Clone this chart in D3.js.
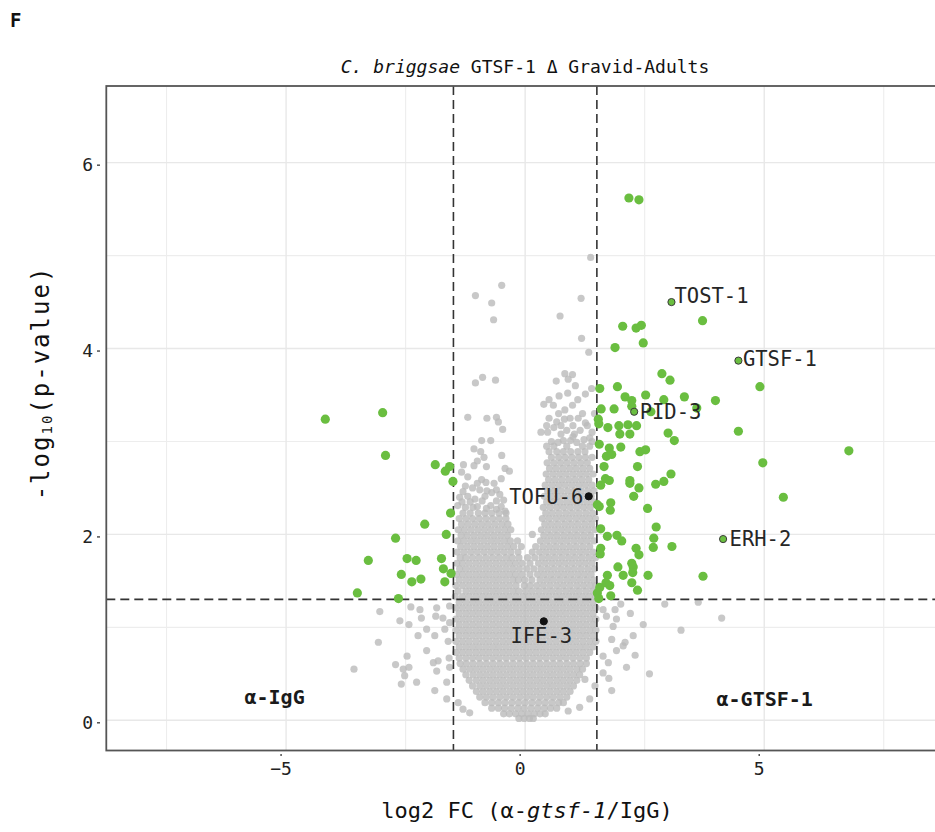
<!DOCTYPE html>
<html>
<head>
<meta charset="utf-8">
<script src="https://cdn.jsdelivr.net/npm/d3@7"></script>
<style>
body { margin: 0; background: #fff; }
svg text { font-family: "DejaVu Sans Mono", monospace; }
</style>
</head>
<body>
<svg id="vis" width="935" height="832"></svg>
<script>
// axis ticks and cut-offs
var xTicks = [-5, 0, 5];
var xMinor = [-7.5, -2.5, 2.5, 7.5];
var yTicks = [0, 2, 4, 6];
var yMinor = [1, 3, 5];
var fcCut = [-1.5, 1.5];
var pCut = 1.301;

// significant proteins, log2 FC > 1.5
var greenRight = [[2.17,5.62],[2.38,5.60],[3.71,4.30],[2.04,4.24],[2.32,4.22],[2.43,4.25],[2.47,4.06],[1.88,4.01],
  [2.86,3.73],[3.03,3.66],[4.91,3.59],[1.56,3.57],[1.93,3.59],[2.09,3.48],[2.23,3.44],[2.52,3.50],[2.90,3.45],
  [3.33,3.48],[3.98,3.44],[1.59,3.35],[1.86,3.35],[2.23,3.38],[2.63,3.32],[3.59,3.36],[1.53,3.24],[1.54,3.19],
  [1.73,3.15],[1.96,3.17],[2.15,3.18],[2.33,3.17],[1.98,3.08],[2.19,3.08],[2.99,3.09],[4.46,3.11],[3.12,3.01],
  [6.77,2.90],[1.55,2.97],[1.76,2.93],[2.00,2.94],[1.70,2.84],[1.81,2.86],[2.40,2.89],[2.52,2.91],[4.97,2.77],
  [1.65,2.73],[2.35,2.73],[3.05,2.65],[2.90,2.57],[2.73,2.54],[1.68,2.60],[1.76,2.58],[2.19,2.58],[2.19,2.55],
  [1.58,2.53],[2.38,2.50],[2.27,2.41],[5.40,2.40],[1.51,2.32],[1.55,2.30],[1.79,2.34],[1.78,2.26],[2.56,2.28],
  [2.74,2.08],[1.58,2.06],[1.72,1.98],[1.92,1.99],[2.02,1.93],[2.69,1.96],[2.68,1.86],[3.07,1.87],[1.58,1.85],
  [1.57,1.79],[2.32,1.85],[2.38,1.78],[2.23,1.69],[2.26,1.65],[1.94,1.65],[2.05,1.56],[2.25,1.59],[2.57,1.56],
  [3.72,1.55],[1.72,1.56],[1.69,1.48],[1.77,1.45],[2.23,1.48],[2.35,1.40],[1.56,1.43],[1.51,1.37],[1.79,1.34],
  [1.54,1.31]];

// significant proteins, log2 FC < -1.5
var greenLeft = [[-4.18,3.24],[-2.98,3.31],[-2.92,2.85],[-1.88,2.75],[-1.67,2.68],[-1.58,2.73],[-1.51,2.57],
  [-1.56,2.23],[-2.10,2.11],[-2.71,1.96],[-1.65,2.00],[-3.28,1.72],[-2.47,1.74],[-2.28,1.72],[-1.75,1.74],
  [-1.71,1.63],[-1.55,1.58],[-2.59,1.57],[-2.37,1.49],[-2.18,1.52],[-1.68,1.49],[-3.51,1.37],[-2.65,1.31]];

// labelled proteins
var labelNames = ["TOST-1", "GTSF-1", "PID-3", "ERH-2", "TOFU-6", "IFE-3"];
var labelX = [3.06, 4.46, 2.28, 4.14, 1.33, 0.39];
var labelY = [4.50, 3.87, 3.32, 1.95, 2.41, 1.065];
var labelSig = [true, true, true, true, false, false];

// non significant proteins, bottom of the volcano: [y, [x...]]
var grayCore = [
  [0.02, [-0.13,-0.02,0.09,0.17]],
  [0.07, [-0.45,-0.33,-0.2,-0.07,0.06,0.19,0.31,0.42]],
  [0.13, [-0.7,-0.56,-0.43,-0.29,-0.15,-0.02,0.12,0.26,0.4,0.53,0.66]],
  [0.19, [-0.84,-0.7,-0.56,-0.42,-0.28,-0.14,0,0.14,0.28,0.42,0.56,0.7,0.8]],
  [0.25, [-0.95,-0.81,-0.67,-0.53,-0.39,-0.25,-0.11,0.03,0.17,0.31,0.45,0.59,0.73,0.87]],
  [0.31, [-1.02,-0.88,-0.74,-0.6,-0.46,-0.32,-0.18,-0.04,0.1,0.24,0.38,0.52,0.66,0.8,0.94]],
  [0.37, [-1.1,-0.95,-0.81,-0.67,-0.53,-0.39,-0.25,-0.11,0.03,0.17,0.31,0.45,0.59,0.73,0.87,1.01]],
  [0.43, [-1.17,-1.02,-0.88,-0.74,-0.6,-0.46,-0.32,-0.18,-0.04,0.1,0.24,0.38,0.52,0.66,0.8,0.94,1.08]],
  [0.49, [-1.24,-1.09,-0.95,-0.81,-0.67,-0.53,-0.39,-0.25,-0.11,0.03,0.17,0.31,0.45,0.59,0.73,0.87,1.01,1.14]],
  [0.55, [-1.3,-1.16,-1.02,-0.88,-0.74,-0.6,-0.46,-0.32,-0.18,-0.04,0.1,0.24,0.38,0.52,0.66,0.8,0.94,1.08,1.2]],
  [0.61, [-1.36,-1.23,-1.09,-0.95,-0.81,-0.67,-0.53,-0.39,-0.25,-0.11,0.03,0.17,0.31,0.45,0.59,0.73,0.87,1.01,1.15,1.28]],
  [0.67, [-1.38,-1.24,-1.1,-0.96,-0.82,-0.68,-0.54,-0.4,-0.26,-0.12,0.02,0.16,0.3,0.44,0.58,0.72,0.86,1.0,1.14,1.28]],
  [0.73, [-1.45,-1.31,-1.17,-1.03,-0.89,-0.75,-0.61,-0.47,-0.33,-0.19,-0.05,0.09,0.23,0.37,0.51,0.65,0.79,0.93,1.07,1.21,1.35]],
  [0.79, [-1.38,-1.24,-1.1,-0.96,-0.82,-0.68,-0.54,-0.4,-0.26,-0.12,0.02,0.16,0.3,0.44,0.58,0.72,0.86,1.0,1.14,1.28,1.42]],
  [0.85, [-1.45,-1.31,-1.17,-1.03,-0.89,-0.75,-0.61,-0.47,-0.33,-0.19,-0.05,0.09,0.23,0.37,0.51,0.65,0.79,0.93,1.07,1.21,1.35,1.48]],
  [0.91, [-1.38,-1.24,-1.1,-0.96,-0.82,-0.68,-0.54,-0.4,-0.26,-0.12,0.02,0.16,0.3,0.44,0.58,0.72,0.86,1.0,1.14,1.28,1.42]],
  [0.97, [-1.45,-1.31,-1.17,-1.03,-0.89,-0.75,-0.61,-0.47,-0.33,-0.19,-0.05,0.09,0.23,0.37,0.51,0.65,0.79,0.93,1.07,1.21,1.35,1.48]],
  [1.03, [-1.38,-1.24,-1.1,-0.96,-0.82,-0.68,-0.54,-0.4,-0.26,-0.12,0.02,0.16,0.3,0.44,0.58,0.72,0.86,1.0,1.14,1.28,1.42]],
  [1.09, [-1.45,-1.31,-1.17,-1.03,-0.89,-0.75,-0.61,-0.47,-0.33,-0.19,-0.05,0.09,0.23,0.37,0.51,0.65,0.79,0.93,1.07,1.21,1.35,1.48]],
  [1.15, [-1.38,-1.24,-1.1,-0.96,-0.82,-0.68,-0.54,-0.4,-0.26,-0.12,0.02,0.16,0.3,0.44,0.58,0.72,0.86,1.0,1.14,1.28,1.42]],
  [1.21, [-1.45,-1.31,-1.17,-1.03,-0.89,-0.75,-0.61,-0.47,-0.33,-0.19,-0.05,0.09,0.23,0.37,0.51,0.65,0.79,0.93,1.07,1.21,1.35,1.48]],
  [1.27, [-1.38,-1.24,-1.1,-0.96,-0.82,-0.68,-0.54,-0.4,-0.26,-0.12,0.02,0.16,0.3,0.44,0.58,0.72,0.86,1.0,1.14,1.28,1.42]]
];

// left arm of the volcano
var grayLeftArm = [
  [1.33, [-1.46,-1.31,-1.17,-1.03,-0.89,-0.75,-0.61,-0.47,-0.33,-0.19,-0.05]],
  [1.39, [-1.4,-1.24,-1.1,-0.96,-0.82,-0.68,-0.54,-0.4,-0.26,-0.13]],
  [1.45, [-1.45,-1.31,-1.17,-1.03,-0.89,-0.75,-0.61,-0.47,-0.33,-0.19,-0.02]],
  [1.51, [-1.38,-1.24,-1.1,-0.96,-0.82,-0.68,-0.54,-0.4,-0.26,-0.14]],
  [1.57, [-1.44,-1.31,-1.17,-1.03,-0.89,-0.75,-0.61,-0.47,-0.33,-0.2]],
  [1.63, [-1.37,-1.24,-1.1,-0.96,-0.82,-0.68,-0.54,-0.4,-0.26]],
  [1.69, [-1.43,-1.31,-1.17,-1.03,-0.89,-0.75,-0.61,-0.47,-0.33,-0.2]],
  [1.75, [-1.36,-1.24,-1.1,-0.96,-0.82,-0.68,-0.54,-0.4,-0.27]],
  [1.81, [-1.42,-1.28,-1.14,-1.0,-0.86,-0.72,-0.58,-0.44,-0.3]],
  [1.87, [-1.35,-1.21,-1.07,-0.93,-0.79,-0.65,-0.51,-0.37,-0.24]],
  [1.93, [-1.41,-1.28,-1.14,-1.0,-0.86,-0.72,-0.58,-0.44,-0.31]],
  [1.99, [-1.34,-1.21,-1.07,-0.93,-0.79,-0.65,-0.51,-0.37]],
  [2.05, [-1.4,-1.27,-1.13,-0.99,-0.85,-0.71,-0.57,-0.43,-0.3]],
  [2.11, [-1.33,-1.19,-1.05,-0.91,-0.77,-0.63,-0.49,-0.36]],
  [2.17, [-1.38,-1.24,-1.1,-0.96,-0.82,-0.68,-0.54,-0.4]],
  [2.23, [-1.3,-1.15,-0.98,-0.84,-0.7,-0.55,-0.4]]
];

// between the two arms
var grayMiddle = [
  [1.33, [0.08]],
  [1.39, [0.01,0.15]],
  [1.45, [0.1]],
  [1.51, [-0.01,0.14]],
  [1.57, [-0.06,0.1]],
  [1.63, [-0.12,0.03,0.18]],
  [1.69, [-0.06,0.1]],
  [1.75, [-0.13,0.05,0.2]],
  [1.81, [-0.15,0.15]],
  [1.87, [-0.08,0.22]],
  [1.93, [-0.16]],
  [2.0, [0.15]]
];

// right arm of the volcano
var grayRightArm = [
  [1.33, [0.22,0.36,0.5,0.64,0.78,0.92,1.06,1.2,1.34,1.47]],
  [1.39, [0.29,0.43,0.57,0.71,0.85,0.99,1.13,1.27,1.41]],
  [1.45, [0.24,0.38,0.52,0.66,0.8,0.94,1.08,1.22,1.36,1.48]],
  [1.51, [0.31,0.45,0.59,0.73,0.87,1.01,1.15,1.29,1.43]],
  [1.57, [0.26,0.4,0.54,0.68,0.82,0.96,1.1,1.24,1.38]],
  [1.63, [0.33,0.47,0.61,0.75,0.89,1.03,1.17,1.31,1.45]],
  [1.69, [0.28,0.42,0.56,0.7,0.84,0.98,1.12,1.26,1.4]],
  [1.75, [0.35,0.49,0.63,0.77,0.91,1.05,1.19,1.33,1.47]],
  [1.81, [0.3,0.44,0.58,0.72,0.86,1.0,1.14,1.28,1.42]],
  [1.87, [0.37,0.51,0.65,0.79,0.93,1.07,1.21,1.35]],
  [1.93, [0.32,0.46,0.6,0.74,0.88,1.02,1.16,1.3,1.44]],
  [1.99, [0.39,0.53,0.67,0.81,0.95,1.09,1.23,1.37]],
  [2.05, [0.34,0.48,0.62,0.76,0.9,1.04,1.18,1.32,1.46]],
  [2.11, [0.41,0.55,0.69,0.83,0.97,1.11,1.25,1.39]],
  [2.17, [0.36,0.5,0.64,0.78,0.92,1.06,1.2,1.34,1.47]],
  [2.23, [0.43,0.57,0.71,0.85,0.99,1.13,1.27,1.41]],
  [2.29, [0.38,0.52,0.66,0.8,0.94,1.08,1.22,1.36]],
  [2.35, [0.45,0.59,0.73,0.87,1.01,1.15,1.29,1.43]],
  [2.41, [0.4,0.54,0.68,0.82,0.96,1.1,1.24,1.38]],
  [2.47, [0.47,0.61,0.75,0.89,1.03,1.17,1.31,1.44]],
  [2.53, [0.42,0.56,0.7,0.84,0.98,1.12,1.26,1.4]],
  [2.59, [0.49,0.63,0.77,0.91,1.05,1.19,1.33]],
  [2.65, [0.44,0.58,0.72,0.86,1.0,1.14,1.28,1.42]],
  [2.71, [0.51,0.65,0.79,0.93,1.07,1.21,1.35]],
  [2.77, [0.46,0.6,0.74,0.88,1.02,1.16,1.3]],
  [2.83, [0.55,0.7,0.84,0.98,1.12,1.26,1.4]],
  [2.89, [0.5,0.66,0.8,0.95,1.1,1.25]]
];

// scattered non significant proteins
var grayScatter = [
  [-1.20,3.26],[-0.80,3.25],[-0.60,3.26],[-0.56,3.21],[-0.47,3.13],[-0.91,3.01],[-0.72,3.01],[-1.07,2.92],
  [-0.93,2.89],[-0.49,2.85],[-0.86,2.83],[-1.00,2.79],[-0.81,2.73],[-1.07,2.74],[-1.29,2.75],[-1.33,2.67],
  [-0.42,2.71],[-0.33,2.68],[-0.91,2.59],[-1.37,2.40],[-1.20,2.41],[-1.05,2.38],[-0.84,2.41],[-0.70,2.45],
  [-0.53,2.43],[-1.41,2.31],[-1.09,2.29],[-0.81,2.28],[-0.60,2.27],[-0.42,2.25],[-1.25,2.52],[-1.1,2.5],
  [-0.65,2.55],[-0.5,2.6],[-1.2,2.62],[-0.6,2.36],[-0.95,2.48],
  [-1.25,2.29],[-1.0,2.3],[-0.72,2.31],[-0.5,2.3],[-1.32,2.35],[-1.15,2.35],[-0.9,2.36],[-0.45,2.37],
  [-1.3,2.46],[-0.8,2.47],[-0.6,2.48],[-1.0,2.55],[-0.82,2.56],
  [-0.89,3.69],[-1.04,3.63],[-0.62,3.66],[-0.49,4.68],[-1.04,4.57],[-0.70,4.49],[-0.66,4.31],
  [0.69,2.99],[0.87,2.95],[1.08,2.99],[1.23,3.02],[1.35,2.95],[0.33,3.10],[0.47,3.10],[0.87,3.12],[1.03,3.08],
  [0.94,3.25],[1.11,3.25],[0.66,3.21],[0.82,3.24],[1.26,3.20],[0.39,3.40],[0.59,3.39],[0.83,3.34],[0.99,3.39],
  [0.71,3.49],[0.89,3.52],[1.26,3.51],[1.39,3.57],[0.83,3.73],[0.99,3.72],[0.65,3.65],[0.90,3.67],[1.35,3.04],
  [0.55,3.0],[1.0,3.05],[0.75,3.08],[1.15,3.12],[0.6,3.15],[1.4,3.1],[0.5,3.25],
  [0.45,2.95],[0.6,2.95],[1.2,2.95],[0.8,3.01],[0.95,3.01],[1.4,3.0],[0.75,3.17],[1.0,3.17],[1.3,3.17],
  [0.45,3.17],[0.7,3.3],[1.2,3.3],[1.45,3.3],[0.5,3.45],[1.1,3.45],[1.05,3.6],
  [1.33,3.96],[1.18,4.11],[0.73,4.35],[1.17,4.54],[1.37,4.98],
  [-3.58,0.55],[-3.07,0.84],[-3.04,1.17],[-2.71,0.60],[-2.62,1.07],[-2.55,0.55],[-2.52,0.48],[-2.59,0.39],
  [-2.43,0.57],[-2.47,0.69],[-2.27,0.41],[-2.39,1.22],[-2.43,1.03],[-2.20,1.19],[-2.17,1.10],[-2.24,0.91],
  [-2.06,0.98],[-2.06,0.75],[-1.89,0.91],[-1.87,1.12],[-1.85,1.21],[-1.82,0.64],[-1.92,0.62],[-1.85,0.53],
  [-1.89,0.32],[-1.64,0.23],[-1.59,0.67],[-1.58,0.57],[-1.72,1.10],[-1.68,0.98],[-1.58,1.05],[-1.61,0.85],
  [-1.64,0.41],[-1.58,1.23],[-1.40,0.19],[-1.30,0.12],[-1.16,0.08],
  [0.90,0.10],[1.14,0.14],[1.35,0.23],[1.46,0.37],[1.25,0.44],
  [1.63,1.19],[1.70,1.12],[1.84,1.01],[1.81,0.87],[1.91,0.75],[2.05,0.80],[2.09,0.84],[2.26,0.91],[2.47,1.03],
  [2.12,0.57],[1.81,0.32],[1.63,0.51],[1.74,0.62],[1.88,1.19],[1.91,1.09],[1.63,0.69],[2.92,1.25],[3.62,1.27],
  [4.11,1.10],[3.26,0.97],[2.3,0.7],[2.6,0.5],[1.75,0.45],[2.0,1.25],[2.2,1.15]];

function rowsToPoints(rows) {
    var out = [];
    rows.forEach(function(r) {
        r[1].forEach(function(x) { out.push([x, r[0]]); });
    });
    return out;
}

var svg = d3.select("#vis");
var green = "#6abe40";

var xScale = d3.scaleLinear().domain([-8.76, 8.76]).range([106.3, 944]);
var yScale = d3.scaleLinear().domain([-0.325, 6.825]).range([750.5, 86]);
var x0 = xScale.range()[0], x1 = xScale.range()[1];
var y0 = yScale.range()[0], y1 = yScale.range()[1];

svg.append("defs").append("clipPath").attr("id", "panel")
   .append("rect").attr("x", x0).attr("y", y1).attr("width", x1 - x0).attr("height", y0 - y1);

// grid
var grid = svg.append("g");
grid.selectAll(".vminor").data(xMinor).enter().append("line")
    .attr("x1", d => xScale(d)).attr("x2", d => xScale(d)).attr("y1", y1).attr("y2", y0)
    .attr("stroke", "#ededed").attr("stroke-width", 1.1);
grid.selectAll(".hminor").data(yMinor).enter().append("line")
    .attr("x1", x0).attr("x2", x1).attr("y1", d => yScale(d)).attr("y2", d => yScale(d))
    .attr("stroke", "#ededed").attr("stroke-width", 1.1);
grid.selectAll(".vmajor").data(xTicks).enter().append("line")
    .attr("x1", d => xScale(d)).attr("x2", d => xScale(d)).attr("y1", y1).attr("y2", y0)
    .attr("stroke", "#e8e8e8").attr("stroke-width", 1.4);
grid.selectAll(".hmajor").data(yTicks).enter().append("line")
    .attr("x1", x0).attr("x2", x1).attr("y1", d => yScale(d)).attr("y2", d => yScale(d))
    .attr("stroke", "#e8e8e8").attr("stroke-width", 1.4);

var plot = svg.append("g").attr("clip-path", "url(#panel)");

// grey points
var grayAll = rowsToPoints(grayCore).concat(rowsToPoints(grayLeftArm), rowsToPoints(grayMiddle),
                                            rowsToPoints(grayRightArm), grayScatter);
plot.append("g").selectAll("circle").data(grayAll).enter().append("circle")
    .attr("cx", d => xScale(d[0])).attr("cy", d => yScale(d[1])).attr("r", 3.6)
    .attr("fill", "#bababa").attr("fill-opacity", 0.8);

// cut-off lines
plot.selectAll(".vcut").data(fcCut).enter().append("line")
    .attr("x1", d => xScale(d)).attr("x2", d => xScale(d)).attr("y1", y1).attr("y2", y0)
    .attr("stroke", "#333").attr("stroke-width", 1.6).attr("stroke-dasharray", "9,5");
plot.append("line")
    .attr("x1", x0).attr("x2", x1).attr("y1", yScale(pCut)).attr("y2", yScale(pCut))
    .attr("stroke", "#333").attr("stroke-width", 1.6).attr("stroke-dasharray", "9,5");

// green points
plot.append("g").selectAll("circle").data(greenRight.concat(greenLeft)).enter().append("circle")
    .attr("cx", d => xScale(d[0])).attr("cy", d => yScale(d[1])).attr("r", 4.6)
    .attr("fill", green);

// labelled points
var labels = labelNames.map((n, i) => ({name: n, x: labelX[i], y: labelY[i], sig: labelSig[i]}));
var labelOffset = {
    "TOST-1": [3, 1, "start"], "GTSF-1": [4.5, 5, "start"], "PID-3": [5.5, 6.8, "start"],
    "ERH-2": [6.5, 7.4, "start"], "TOFU-6": [-5.5, 7.4, "end"], "IFE-3": [-2.5, 21.4, "middle"]
};
plot.append("g").selectAll("circle").data(labels).enter().append("circle")
    .attr("cx", d => xScale(d.x)).attr("cy", d => yScale(d.y)).attr("r", 3.6)
    .attr("fill", d => d.sig ? green : "#111")
    .attr("stroke", d => d.sig ? "#3a3a3a" : "#111").attr("stroke-width", 1);
svg.append("g").selectAll("text").data(labels).enter().append("text")
    .attr("x", d => xScale(d.x) + labelOffset[d.name][0])
    .attr("y", d => yScale(d.y) + labelOffset[d.name][1])
    .attr("text-anchor", d => labelOffset[d.name][2])
    .attr("font-size", "20.5px").attr("fill", "#262626")
    .text(d => d.name);

// group annotations
svg.append("text").attr("x", xScale(-5.24)).attr("y", yScale(0.247) + 7)
   .attr("text-anchor", "middle").attr("font-size", "20px").attr("font-weight", "bold")
   .attr("fill", "#1a1a1a").text("α-IgG");
svg.append("text").attr("x", xScale(5.01)).attr("y", yScale(0.226) + 7)
   .attr("text-anchor", "middle").attr("font-size", "20px").attr("font-weight", "bold")
   .attr("fill", "#1a1a1a").text("α-GTSF-1");

// panel border
svg.append("rect").attr("x", x0).attr("y", y1).attr("width", x1 - x0).attr("height", y0 - y1)
   .attr("fill", "none").attr("stroke", "#555").attr("stroke-width", 1.8);

// axes
var xAxis = svg.append("g").attr("transform", "translate(-5.5," + (y0 + 3.5) + ")")
    .call(d3.axisBottom(xScale).tickValues(xTicks).tickSize(2).tickPadding(6)
          .tickFormat(d => d < 0 ? "\u2212" + Math.abs(d) : d));
var yAxis = svg.append("g").attr("transform", "translate(100,2)")
    .call(d3.axisLeft(yScale).tickValues(yTicks).tickSize(3).tickPadding(4));
[xAxis, yAxis].forEach(function(a) {
    a.select(".domain").remove();
    a.selectAll(".tick line").attr("stroke", "#444").attr("stroke-width", 1.4);
    a.selectAll(".tick text").attr("font-family", "DejaVu Sans Mono").attr("font-size", "18px").attr("fill", "#222");
});

// titles
var title = svg.append("text").attr("x", 525).attr("y", 73).attr("text-anchor", "middle")
    .attr("font-size", "18px").attr("fill", "#111");
title.append("tspan").attr("font-style", "italic").text("C. briggsae");
title.append("tspan").text(" GTSF-1 \u0394 Gravid-Adults");

var xLab = svg.append("text").attr("x", 527).attr("y", 818).attr("text-anchor", "middle")
    .attr("font-size", "22px").attr("fill", "#111");
xLab.append("tspan").text("log2 FC (\u03b1-");
xLab.append("tspan").attr("font-style", "italic").text("gtsf-1");
xLab.append("tspan").text("/IgG)");

var yLab = svg.append("text").attr("transform", "translate(49,383) rotate(-90)")
    .attr("text-anchor", "middle").attr("font-size", "24px").attr("fill", "#111")
    .attr("letter-spacing", "2px");
yLab.append("tspan").text("-log");
yLab.append("tspan").attr("font-size", "14px").attr("dy", 3).text("10");
yLab.append("tspan").attr("dy", -3).text("(p-value)");

svg.append("text").attr("x", 10).attr("y", 27).attr("font-family", "DejaVu Sans")
   .attr("font-weight", "bold").attr("font-size", "19px").attr("fill", "#111").text("F");
</script>
</body>
</html>
